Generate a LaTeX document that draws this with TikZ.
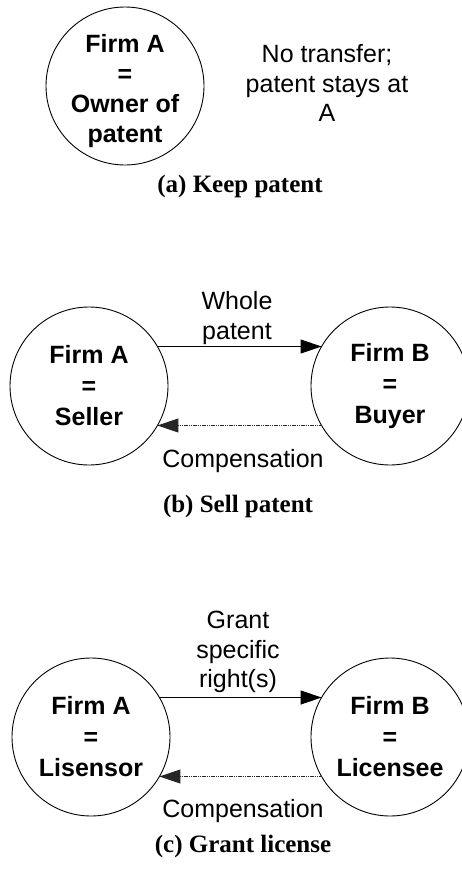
\documentclass[tikz,border=0pt]{standalone}
\usepackage{fontspec}
\setmainfont{Liberation Serif}
\setsansfont{Liberation Sans}
\usetikzlibrary{arrows.meta}
\begin{document}
\begin{tikzpicture}[x=1pt,y=-1pt,
  firm/.style={circle,draw,line width=0.9pt,minimum size=158pt,inner sep=0pt,outer sep=0pt,
    align=center,font=\sffamily\bfseries\fontsize{25}{31}\selectfont},
  firmtext/.style={align=center,inner sep=0pt,font=\sffamily\bfseries\fontsize{25}{30}\selectfont},
  lbl/.style={align=center,font=\sffamily\fontsize{25}{29.5}\selectfont},
  caption/.style={font=\rmfamily\bfseries\fontsize{25}{30}\selectfont},
  give/.style={line width=1pt,-{Triangle[length=21pt,width=14pt]}},
  pay/.style={line width=1pt,dash pattern=on 1.2pt off 0.6pt,draw=black!85,
    -{Triangle[length=21pt,width=14pt]}}]
\useasboundingbox (0,0) rectangle (461,870);

% (a) keep patent
\node[firm] (a1) at (125,86) {};
\node[firmtext] (a1t) at (125,91) {Firm A\\=\\Owner of\\patent};
\node[lbl] (anote) at (327,83) {No transfer;\\patent stays at\\A};
\node[caption] (acap) at (240,186) {(a) Keep patent};

% (b) sell patent
\node[firm] (b1) at (89,386) {Firm A\\=\\Seller};
\node[firm] (b2) at (390,386) {Firm B\\=\\Buyer};
\draw[give] (b1.30) -- (b2.150);
\draw[pay] (b2.-150) -- (b1.-30);
\node[lbl] (bgive) at (237,318) {Whole\\patent};
\node[lbl] (bpay) at (243,461) {Compensation};
\node[caption] (bcap) at (238,506) {(b) Sell patent};

% (c) grant license
\node[firm] (c1) at (91,737) {Firm A\\=\\Lisensor};
\node[firm] (c2) at (390,737) {Firm B\\=\\Licensee};
\draw[give] (c1.30) -- (c2.150);
\draw[pay] (c2.-150) -- (c1.-30);
\node[lbl] (cgive) at (238,652) {Grant\\specific\\right(s)};
\node[lbl] (cpay) at (243,811) {Compensation};
\node[caption] (ccap) at (243,846) {(c) Grant license};
\end{tikzpicture}
\end{document}
